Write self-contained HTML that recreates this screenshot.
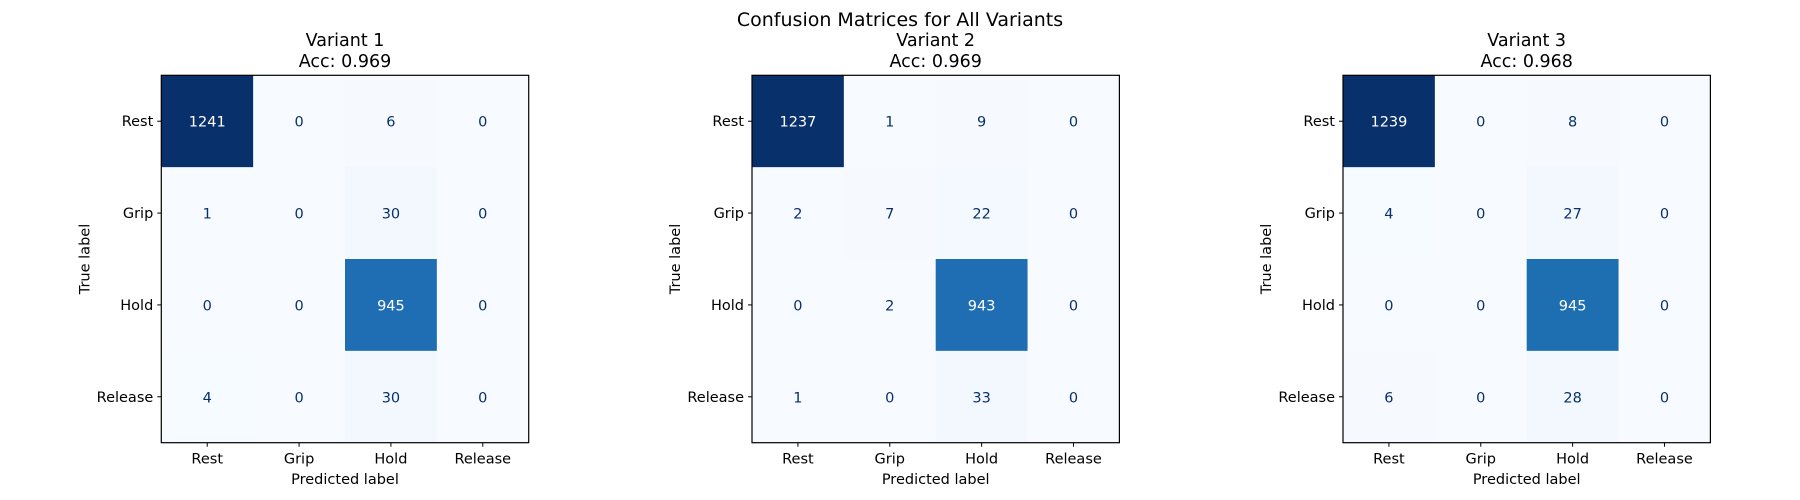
<!DOCTYPE html>
<html><head><meta charset="utf-8"><style>
html,body{margin:0;padding:0;background:#fff;}
svg{display:block;font-family:"DejaVu Sans","Liberation Sans",sans-serif;}
</style></head><body>
<svg id="fig" width="1800" height="500" viewBox="0 0 1800 500">
<text x="900" y="26" text-anchor="middle" font-size="19" fill="#000">Confusion Matrices for All Variants</text>
</svg>
<script>
const classLabels = ["Rest","Grip","Hold","Release"];
const variantNames = ["Variant 1","Variant 2","Variant 3"];
const accuracies = ["0.969","0.969","0.968"];
const matrixV1 = [[1241,0,6,0],[1,0,30,0],[0,0,945,0],[4,0,30,0]];
const matrixV2 = [[1237,1,9,0],[2,7,22,0],[0,2,943,0],[1,0,33,0]];
const matrixV3 = [[1239,0,8,0],[4,0,27,0],[0,0,945,0],[6,0,28,0]];
const matrices = [matrixV1, matrixV2, matrixV3];

const NS = "http://www.w3.org/2000/svg";
const svg = document.getElementById('fig');
const blues = ["#f7fbff","#deebf7","#c6dbef","#9ecae1","#6baed6","#4292c6","#2171b5","#08519c","#08306b"];
function hex(c){return [1,3,5].map(i=>parseInt(c.substr(i,2),16));}
function cmap(t){
  t=Math.max(0,Math.min(1,t));
  const p=t*(blues.length-1), i=Math.min(Math.floor(p),blues.length-2), f=p-i;
  const a=hex(blues[i]), b=hex(blues[i+1]);
  return "rgb("+a.map((v,k)=>Math.round(v+(b[k]-v)*f)).join(",")+")";
}
function mk(tag, attrs, parent){
  const e=document.createElementNS(NS,tag);
  for(const k in attrs) e.setAttribute(k,attrs[k]);
  (parent||svg).appendChild(e); return e;
}
const axLefts=[161.3,752,1343];
const axTop=75.3, axSize=367.4;
const n=classLabels.length;
matrices.forEach((m,vi)=>{
  const left=axLefts[vi];
  const cell=axSize/n;
  const xScale=j=>left+j*cell;
  const yScale=i=>axTop+i*cell;
  const flat=m.flat();
  const vmin=Math.min(...flat), vmax=Math.max(...flat);
  const g=mk('g',{});
  
  
  const t1=mk('text',{x:left+axSize/2,y:46,'text-anchor':'middle','font-size':'17.5',fill:'#000'},g);
  t1.textContent=variantNames[vi];
  
  
  const t2=mk('text',{x:left+axSize/2,y:67,'text-anchor':'middle','font-size':'17.5',fill:'#000'},g);
  t2.textContent="Acc: "+accuracies[vi];
  
  
  m.forEach((row,i)=>row.forEach((v,j)=>{
    const t=(v-vmin)/(vmax-vmin);
    const r=mk('rect',{x:xScale(j),y:yScale(i),width:cell+0.5,height:cell+0.5,fill:cmap(t)},g);
    
    
    const tx=mk('text',{x:xScale(j)+cell/2,y:yScale(i)+cell/2+5.5,'text-anchor':'middle','font-size':'14.5',fill:t>0.5?'#fff':'#08306b'},g);
    tx.textContent=v;
    
    
  }));
  const fr=mk('rect',{x:left,y:axTop,width:axSize,height:axSize,fill:'none',stroke:'#000','stroke-width':1.2},g);
  
  
  classLabels.forEach((lab,k)=>{
    const cx=xScale(k)+cell/2, cy=yScale(k)+cell/2;
    mk('line',{x1:cx,x2:cx,y1:axTop+axSize,y2:axTop+axSize+4,stroke:'#000','stroke-width':1},g);
    mk('line',{x1:left-4,x2:left,y1:cy,y2:cy,stroke:'#000','stroke-width':1},g);
    const xl=mk('text',{x:cx,y:axTop+axSize+21,'text-anchor':'middle','font-size':'14.5',fill:'#000'},g);
    xl.textContent=lab;
    
    
    const yl=mk('text',{x:left-8,y:cy+5,'text-anchor':'end','font-size':'14.5',fill:'#000'},g);
    yl.textContent=lab;
    
    
  });
  const xt=mk('text',{x:left+axSize/2,y:484,'text-anchor':'middle','font-size':'14.5',fill:'#000'},g);
  xt.textContent="Predicted label";
  
  
  const yx=left-72, yy=axTop+axSize/2;
  const yt=mk('text',{x:yx,y:yy,'text-anchor':'middle','font-size':'14.5',fill:'#000',transform:'rotate(-90 '+yx+' '+yy+')'},g);
  yt.textContent="True label";
  
  
});
</script>
</body></html>
